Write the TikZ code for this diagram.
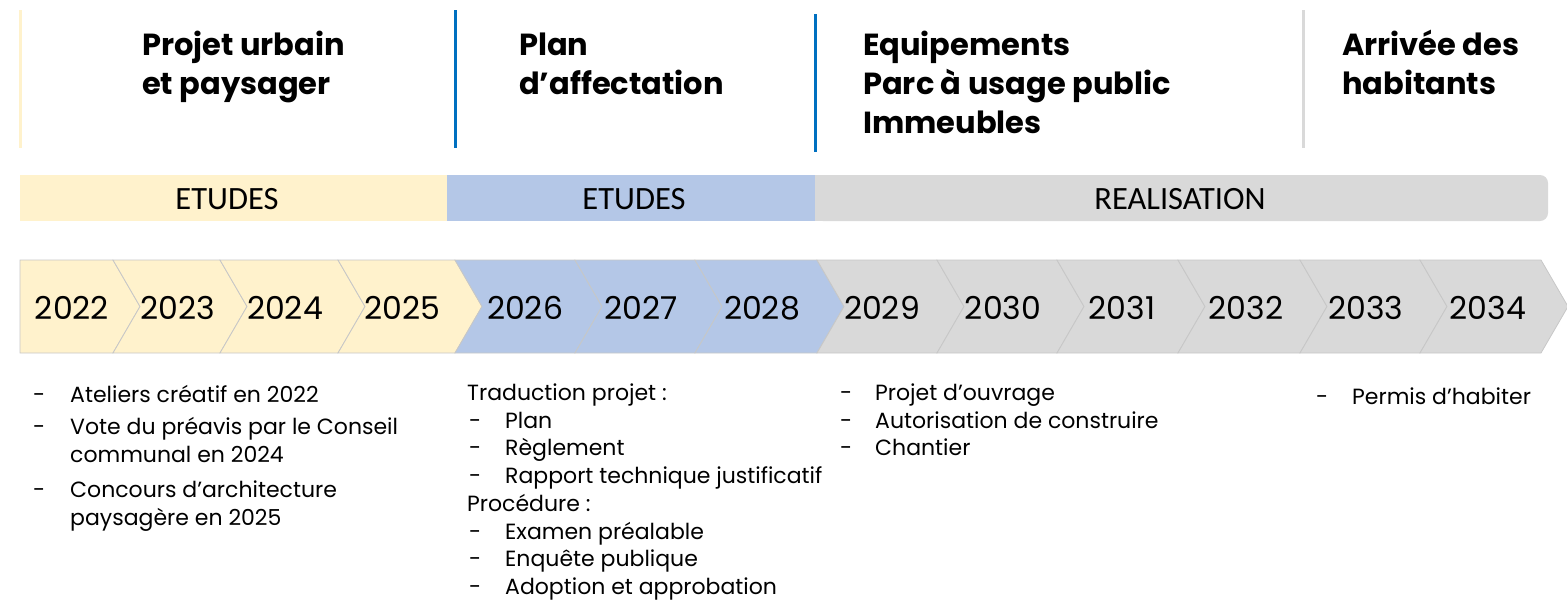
\documentclass[tikz,border=0pt]{standalone}
\usepackage{fontspec}
\setmainfont{Poppins}
\newfontfamily\calib{Carlito}
\definecolor{cyel}{HTML}{FFF2CC}
\definecolor{cblu}{HTML}{B4C7E7}
\definecolor{cgry}{HTML}{D9D9D9}
\definecolor{cline}{HTML}{0070C0}
\begin{document}
\begin{tikzpicture}[x=1pt,y=-1pt,
  head/.style={anchor=base west,inner sep=0pt,font=\fontsize{30.5}{39}\selectfont\bfseries,align=left},
  barlbl/.style={inner sep=0pt,font=\calib\fontsize{32.5}{34}\selectfont},
  yr/.style={inner sep=0pt,font=\fontsize{31.5}{36}\selectfont},
  body/.style={anchor=base west,inner sep=0pt,font=\fontsize{22}{27}\selectfont},
  sep/.style={line width=3pt},
  chev/.style={draw=black!22,line width=0.8pt}]
\useasboundingbox (0,0) rectangle (1567,605);
% vertical separators
\draw[sep,cyel] (20,10) -- (20,148);
\draw[sep,cline] (455,10) -- (455,148);
\draw[sep,cline] (815,14) -- (815,152);
\draw[sep,cgry] (1303,10) -- (1303,148);
% headers
\node[head] (h1a) at (142,55) {Projet urbain};
\node[head] (h1b) at (142,94) {et paysager};
\node[head] (h2a) at (519,55) {Plan};
\node[head] (h2b) at (519,94) {d’affectation};
\node[head] (h3a) at (863,55) {Equipements};
\node[head] (h3b) at (863,94) {Parc à usage public};
\node[head] (h3c) at (863,133) {Immeubles};
\node[head] (h4a) at (1342,55) {Arrivée des};
\node[head] (h4b) at (1342,94) {habitants};
% phase bars
\fill[cyel] (20,175) rectangle (447,221);
\fill[cblu] (447,175) rectangle (815,221);
\fill[cgry,rounded corners=8pt] (815,175) -- (1548,175) -- (1548,221) -- (815,221) [sharp corners] -- cycle;
\fill[cgry] (815,175) rectangle (830,221);
\node[barlbl] (b1) at (227,199) {ETUDES};
\node[barlbl] (b2) at (634,199) {ETUDES};
\node[barlbl] (b3) at (1180,199) {REALISATION};
% chevrons
\def\d{27}
\fill[cyel,chev] (20,260) -- (113,260) -- (113+\d,306.5) -- (113,353) -- (20,353) -- cycle;
\foreach \xl/\xr/\c in {113/220/cyel,220/338/cyel,338/455/cyel,455/575/cblu,575/695/cblu,695/817/cblu,817/937/cgry,937/1057/cgry,1057/1178/cgry,1178/1300/cgry,1300/1420/cgry,1420/1541/cgry}{
  \fill[\c,chev] (\xl,260) -- (\xr,260) -- (\xr+\d,306.5) -- (\xr,353) -- (\xl,353) -- (\xl+\d,306.5) -- cycle;
}
\foreach \n/\x in {2022/72,2023/178,2024/285,2025/402,2026/525,2027/641,2028/762,2029/882,2030/1003,2031/1122,2032/1246,2033/1366,2034/1488}{
  \node[yr] (y\n) at (\x,308) {\n};
}
% bottom text column 1
\node[body] (d1) at (33,402) {-};
\node[body] (t1) at (70,402) {Ateliers créatif en 2022};
\node[body] (d2) at (33,434) {-};
\node[body] (t2) at (70,434) {Vote du préavis par le Conseil};
\node[body] (t2b) at (70,462) {communal en 2024};
\node[body] (d3) at (33,497) {-};
\node[body] (t3) at (70,497) {Concours d’architecture};
\node[body] (t3b) at (70,525) {paysagère en 2025};
% column 2
\node[body] (m0) at (467,400) {Traduction projet :};
\foreach \i/\y/\t in {1/428/Plan,2/455/Règlement,3/483/Rapport technique justificatif}{
  \node[body] (md\i) at (469,\y) {-};
  \node[body] (m\i) at (505,\y) {\t};
}
\node[body] (m4) at (467,511) {Procédure :};
\foreach \i/\y/\t in {5/539/Examen préalable,6/566/Enquête publique,7/594/Adoption et approbation}{
  \node[body] (md\i) at (469,\y) {-};
  \node[body] (m\i) at (505,\y) {\t};
}
% column 3
\foreach \i/\y/\t in {1/400/Projet d’ouvrage,2/428/Autorisation de construire,3/455/Chantier}{
  \node[body] (rd\i) at (840,\y) {-};
  \node[body] (r\i) at (875,\y) {\t};
}
% column 4
\node[body] (pd) at (1316,404) {-};
\node[body] (p1) at (1352,404) {Permis d’habiter};
\end{tikzpicture}
\end{document}
